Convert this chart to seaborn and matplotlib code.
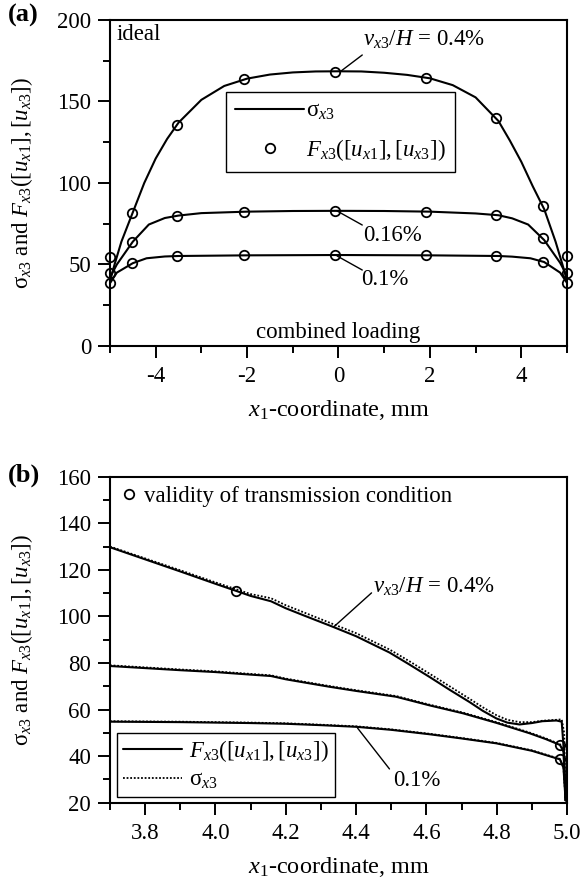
import numpy as np
import pandas as pd
import matplotlib
matplotlib.use("Agg")
import matplotlib.pyplot as plt
from matplotlib.ticker import MultipleLocator, FixedLocator, FormatStrFormatter
from matplotlib.lines import Line2D
import seaborn as sns

# ---------------- data: panel (a), ideal, combined loading ----------------
xa_04 = [-5, -4.9, -4.75, -4.5, -4.25, -4.0, -3.75, -3.5, -3.0, -2.5, -2.0, -1.5, -1.0, -0.5,
         0, 0.5, 1.0, 1.5, 2.0, 2.5, 3.0, 3.5, 3.75, 4.0, 4.25, 4.5, 4.75, 4.9, 5]
sa_04 = [40, 50, 64, 82, 100, 115, 127, 137, 151, 159.5, 164, 166.5, 167.8, 168.4,
         168.5, 168.4, 167.6, 166.3, 164.2, 160, 152.5, 138, 126, 113, 98, 84, 64, 50, 40]

xa_016 = [-5, -4.85, -4.5, -4.15, -3.8, -3.5, -3.0, -2.0, -1.0, 0, 1.0, 2.0, 3.0, 3.5, 3.8, 4.15, 4.5, 4.85, 5]
sa_016 = [42, 50, 64, 74.5, 78.5, 80, 81.5, 82.4, 82.8, 82.9, 82.8, 82.4, 81.3, 80.2, 78.3, 74.5, 65, 51, 43]

xa_01 = [-5, -4.85, -4.5, -4.2, -3.8, -3.5, -2.0, 0, 2.0, 3.5, 3.8, 4.2, 4.5, 4.85, 5]
sa_01 = [38.5, 45, 50.8, 53.8, 54.9, 55.2, 55.6, 55.8, 55.6, 55.2, 54.8, 53.8, 51.5, 45, 38.7]

xa_pts = [-5, -4.51, -3.54, -2.07, -0.08, 1.91, 3.45, 4.47, 5.0]
fa_04 = [54.8, 81.4, 135.8, 163.8, 168.3, 164.6, 140.0, 85.9, 55.2]
fa_016 = [44.6, 64.0, 79.8, 82.4, 82.8, 82.4, 80.4, 66.1, 45.0]
fa_01 = [38.5, 50.7, 55.2, 55.6, 55.8, 55.6, 55.2, 51.7, 38.8]

# ---------------- data: panel (b), edge region ----------------
xb_04 = [3.7, 3.8, 3.9, 4.0, 4.058, 4.1, 4.158, 4.2, 4.25, 4.333, 4.4, 4.495, 4.55, 4.609,
         4.666, 4.723, 4.76, 4.799, 4.83, 4.865, 4.9, 4.93, 4.97, 4.985, 4.992, 4.996]
fb_04 = [129.7, 124.5, 119.3, 114.0, 111.0, 108.8, 106.5, 103.5, 100.5, 95.6, 91.5, 84.5, 79.5, 74.0,
         68.5, 63.2, 59.5, 56.2, 54.4, 53.6, 54.2, 55.0, 55.3, 54.8, 40.0, 21.0]
sb_04 = [130.0, 124.9, 119.8, 114.6, 111.7, 109.6, 107.8, 104.8, 101.8, 96.8, 92.8, 85.8, 80.9, 75.4,
         70.0, 64.6, 61.0, 57.6, 55.6, 54.6, 54.6, 55.2, 55.6, 55.8, 50.0, 21.0]

xb_016 = [3.7, 3.8, 3.9, 4.0, 4.1, 4.158, 4.2, 4.25, 4.324, 4.4, 4.514, 4.609, 4.704, 4.799,
          4.894, 4.94, 4.98, 4.99, 4.996]
fb_016 = [78.7, 77.8, 76.9, 76.1, 75.0, 74.4, 73.0, 71.7, 69.8, 68.0, 65.5, 61.8, 58.4, 54.3,
          49.8, 47.3, 44.8, 42.0, 21.0]
sb_016 = [79.0, 78.1, 77.2, 76.4, 75.3, 74.7, 73.3, 72.0, 70.1, 68.3, 65.8, 62.1, 58.7, 54.6,
          50.1, 47.6, 45.1, 42.3, 21.0]

xb_01 = [3.7, 3.9, 4.1, 4.2, 4.3, 4.4, 4.5, 4.609, 4.7, 4.799, 4.9, 4.98, 4.99, 4.996]
fb_01 = [54.8, 54.6, 54.2, 53.9, 53.3, 52.6, 51.3, 49.4, 47.6, 45.5, 42.3, 38.6, 35.0, 21.0]
sb_01 = [55.0, 54.8, 54.4, 54.1, 53.5, 52.8, 51.5, 49.6, 47.8, 45.7, 42.5, 38.8, 35.2, 21.0]

xb_pts = [4.058, 4.98, 4.98]
fb_pts = [111.0, 44.8, 38.6]

# ---------------- style ----------------
sns.set_theme(style="ticks")
K = "black"
plt.rcParams["font.family"] = ["Liberation Serif", "DejaVu Serif"]
plt.rcParams["mathtext.fontset"] = "custom"
plt.rcParams["mathtext.rm"] = "Liberation Serif"
plt.rcParams["mathtext.it"] = "Liberation Serif:italic"
plt.rcParams["mathtext.bf"] = "Liberation Serif:bold"
plt.rcParams["axes.unicode_minus"] = False
for key in ("text.color", "axes.labelcolor", "xtick.color", "ytick.color",
            "xtick.labelcolor", "ytick.labelcolor", "axes.edgecolor"):
    plt.rcParams[key] = K

FS = 16.5
FXL = 17.5
FYL = 16.5

fig = plt.figure(figsize=(5.81, 8.86), dpi=100)
ax_a = fig.add_axes([0.1893, 0.6095, 0.7866, 0.3680])
ax_b = fig.add_axes([0.1893, 0.0940, 0.7866, 0.3680])

LW = 1.5


def style_axes(ax):
    for s in ax.spines.values():
        s.set_linewidth(1.5)
        s.set_color(K)
    ax.tick_params(axis="x", which="major", pad=6)
    ax.tick_params(axis="y", which="major", pad=5)
    ax.tick_params(which="major", direction="out", length=8.5, width=1.4, color=K,
                   labelsize=FS, labelcolor=K, top=False, right=False)
    ax.tick_params(which="minor", direction="out", length=4.8, width=1.4, color=K,
                   top=False, right=False)
    ax.grid(False)


def line(ax, x, y, **kw):
    df = pd.DataFrame({"x": x, "y": y})
    sns.lineplot(data=df, x="x", y="y", ax=ax, sort=False, estimator=None,
                 color=K, **kw)


MS = 6.8


def circles(ax, x, y):
    df = pd.DataFrame({"x": x, "y": y})
    ax.plot(df["x"], df["y"], linestyle="none", marker="o", markersize=MS,
            markerfacecolor="none", markeredgecolor=K, markeredgewidth=1.3, zorder=5,
            clip_on=False)


# ---------------- panel (a) ----------------
line(ax_a, xa_04, sa_04, lw=LW)
line(ax_a, xa_016, sa_016, lw=LW)
line(ax_a, xa_01, sa_01, lw=LW)
for fv in (fa_04, fa_016, fa_01):
    circles(ax_a, xa_pts, fv)

ax_a.set_xlim(-5, 5)
ax_a.set_ylim(0, 200)
ax_a.xaxis.set_major_locator(FixedLocator([-4, -2, 0, 2, 4]))
ax_a.xaxis.set_minor_locator(FixedLocator([-5, -3, -1, 1, 3, 5]))
ax_a.yaxis.set_major_locator(MultipleLocator(50))
ax_a.yaxis.set_minor_locator(MultipleLocator(25))
style_axes(ax_a)

ylab = "σ$_{x3}$ and $F_{x3}([u_{x1}],[u_{x3}])$"
xlab = "$x_1$-coordinate, mm"
ax_a.set_xlabel(xlab, fontsize=FXL, color=K, labelpad=8)
ax_a.set_ylabel(ylab, fontsize=FYL, color=K)
ax_a.yaxis.set_label_coords(-0.165, 0.5)

ax_a.text(0.015, 0.955, "ideal", transform=ax_a.transAxes, fontsize=FS, ha="left", va="center", color=K)
ax_a.text(0.0, 8.5, "combined loading", fontsize=FS, ha="center", va="center", color=K)

ax_a.annotate("", xy=(0.03, 168.1), xytext=(0.52, 178.5),
              arrowprops=dict(arrowstyle="-", lw=1.0, color=K, shrinkA=0, shrinkB=0))
ax_a.text(0.53, 187.5, "$v_{x3}/H$ = 0.4%", fontsize=FS, ha="left", va="center", color=K)
ax_a.annotate("", xy=(-0.03, 82.8), xytext=(0.52, 74.2),
              arrowprops=dict(arrowstyle="-", lw=1.0, color=K, shrinkA=0, shrinkB=0))
ax_a.text(0.53, 68.0, "0.16%", fontsize=FS, ha="left", va="center", color=K)
ax_a.annotate("", xy=(-0.03, 55.2), xytext=(0.52, 46.6),
              arrowprops=dict(arrowstyle="-", lw=1.0, color=K, shrinkA=0, shrinkB=0))
ax_a.text(0.50, 40.5, "0.1%", fontsize=FS, ha="left", va="center", color=K)

h_line = Line2D([], [], color=K, lw=LW)
h_circ = Line2D([], [], color=K, lw=0, marker="o", markersize=MS,
                markerfacecolor="none", markeredgewidth=1.3)
leg_a = ax_a.legend([h_line, h_circ],
                    ["σ$_{x3}$", "$F_{x3}([u_{x1}],[u_{x3}])$"],
                    loc="upper left", bbox_to_anchor=(0.254, 0.779), borderaxespad=0,
                    fontsize=FS, frameon=True, fancybox=False, edgecolor=K,
                    handlelength=3.0, handletextpad=0.1, labelspacing=0.65,
                    borderpad=0.4)
leg_a.get_frame().set_linewidth(1.0)
leg_a.get_frame().set_alpha(1)

fig.text(8 / 581, 1 - 15 / 886, "(a)", fontsize=19, fontweight="bold", ha="left", va="center", color=K)

# ---------------- panel (b) ----------------
line(ax_b, xb_04, fb_04, lw=LW)
line(ax_b, xb_04, sb_04, lw=1.3, linestyle=(0, (1, 1)))
line(ax_b, xb_016, fb_016, lw=LW)
line(ax_b, xb_016, sb_016, lw=1.3, linestyle=(0, (1, 1)))
line(ax_b, xb_01, fb_01, lw=LW)
line(ax_b, xb_01, sb_01, lw=1.3, linestyle=(0, (1, 1)))
circles(ax_b, xb_pts, fb_pts)

ax_b.set_xlim(3.7, 5.0)
ax_b.set_ylim(20, 160)
ax_b.xaxis.set_major_locator(FixedLocator([3.8, 4.0, 4.2, 4.4, 4.6, 4.8, 5.0]))
ax_b.xaxis.set_minor_locator(FixedLocator([3.7, 3.9, 4.1, 4.3, 4.5, 4.7, 4.9]))
ax_b.xaxis.set_major_formatter(FormatStrFormatter("%.1f"))
ax_b.yaxis.set_major_locator(MultipleLocator(20))
ax_b.yaxis.set_minor_locator(MultipleLocator(10))
style_axes(ax_b)
ax_b.set_xlabel(xlab, fontsize=FXL, color=K, labelpad=8)
ax_b.set_ylabel(ylab, fontsize=FYL, color=K)
ax_b.yaxis.set_label_coords(-0.165, 0.5)

ax_b.annotate("", xy=(4.338, 95.7), xytext=(4.444, 110.1),
              arrowprops=dict(arrowstyle="-", lw=1.0, color=K, shrinkA=0, shrinkB=0))
ax_b.text(4.447, 112.5, "$v_{x3}/H$ = 0.4%", fontsize=FS, ha="left", va="center", color=K)
ax_b.annotate("", xy=(4.404, 52.1), xytext=(4.495, 34.5),
              arrowprops=dict(arrowstyle="-", lw=1.0, color=K, shrinkA=0, shrinkB=0))
ax_b.text(4.505, 29.7, "0.1%", fontsize=FS, ha="left", va="center", color=K)

leg_top = ax_b.legend([h_circ], ["validity of transmission condition"],
                      loc="upper left", bbox_to_anchor=(-0.005, 1.01), borderaxespad=0.15,
                      fontsize=FS, frameon=False, handlelength=0.8, handletextpad=0.25)
ax_b.add_artist(leg_top)

h_dot = Line2D([], [], color=K, lw=1.3, linestyle=(0, (1, 1)))
leg_b = ax_b.legend([h_line, h_dot],
                    ["$F_{x3}([u_{x1}],[u_{x3}])$", "σ$_{x3}$"],
                    loc="lower left", bbox_to_anchor=(0.0153, 0.0175), borderaxespad=0,
                    fontsize=FS, frameon=True, fancybox=False, edgecolor=K,
                    handlelength=2.6, handletextpad=0.3, labelspacing=0.25,
                    borderpad=0.25)
leg_b.get_frame().set_linewidth(1.0)
leg_b.get_frame().set_alpha(1)

fig.text(8 / 581, 1 - 475 / 886, "(b)", fontsize=19, fontweight="bold", ha="left", va="center", color=K)

fig.savefig("out.png", dpi=100, facecolor="white")
